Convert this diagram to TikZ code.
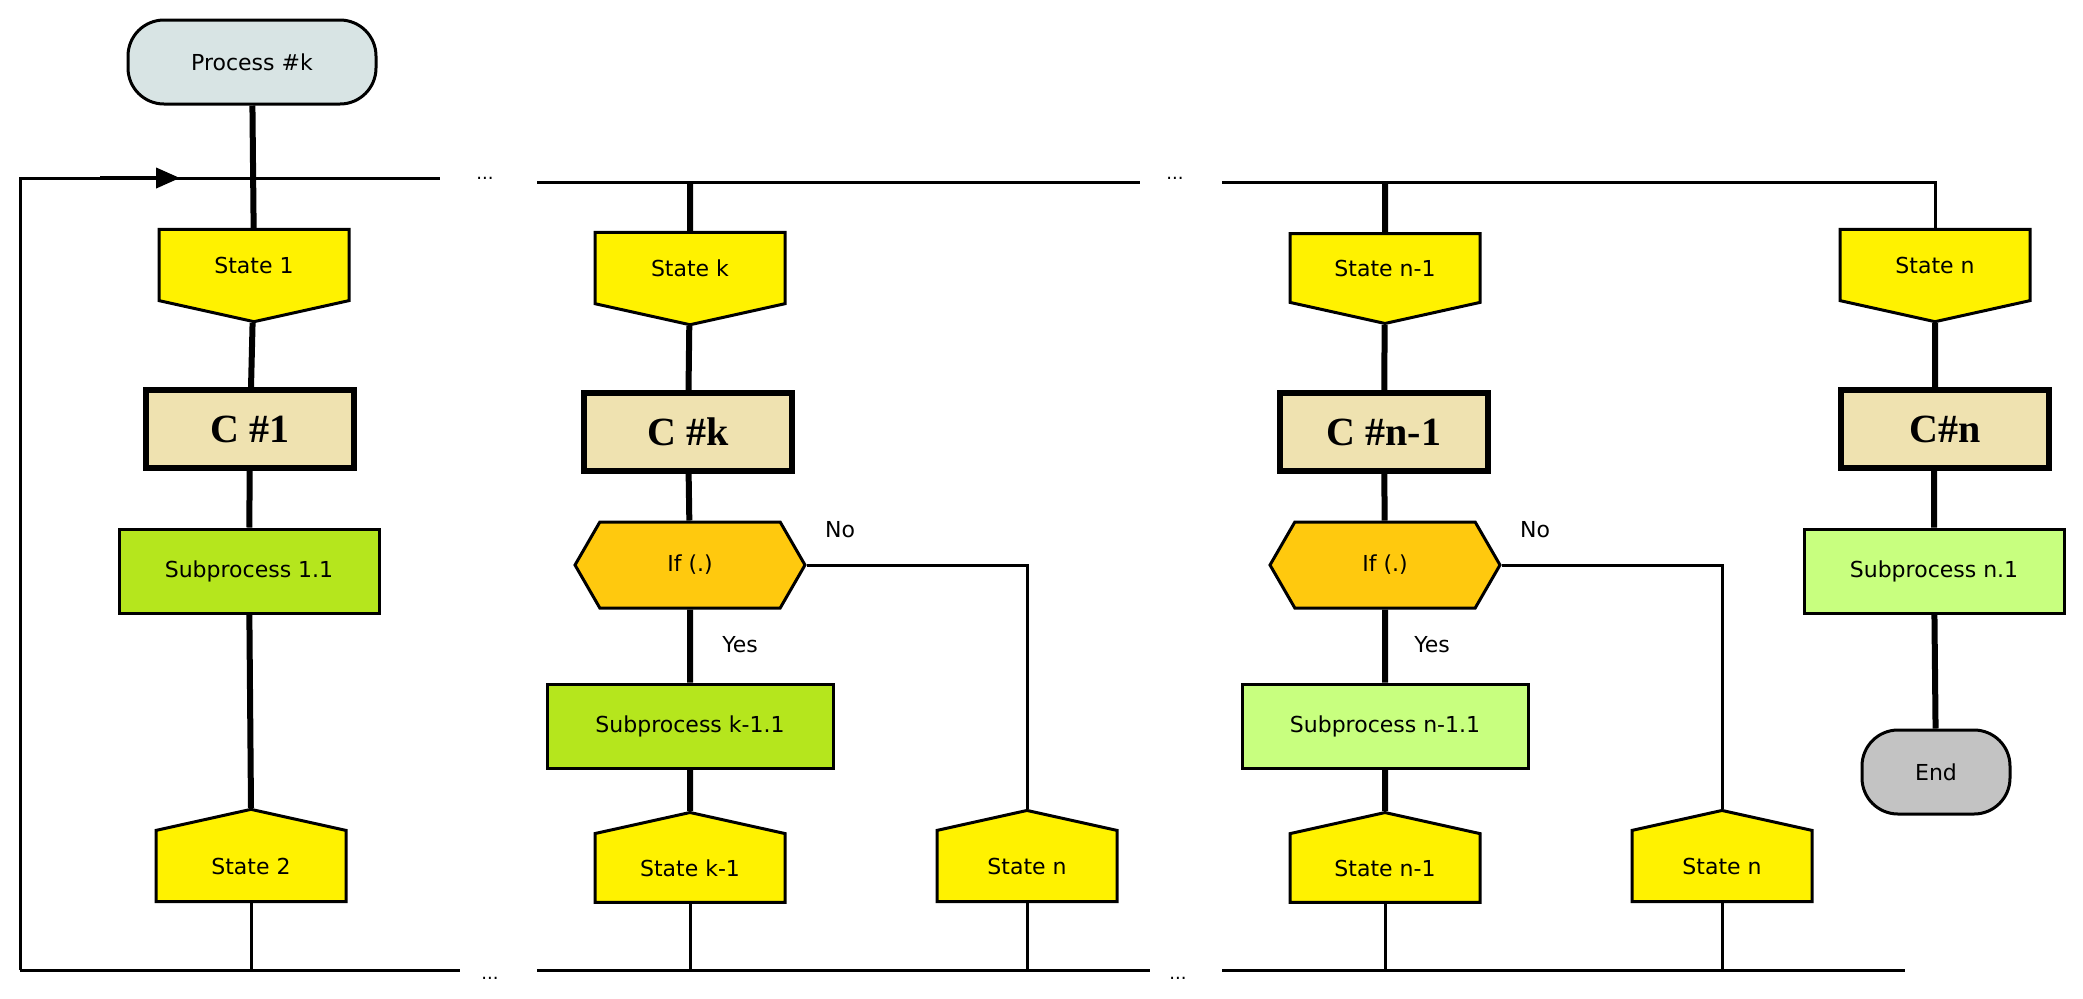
\documentclass[tikz,border=0pt]{standalone}
\usepackage{fontspec}
\setmainfont{Liberation Serif}
\setsansfont{DejaVu Sans}
\usetikzlibrary{shapes.symbols,arrows.meta}
\definecolor{procgray}{RGB}{216,228,228}
\definecolor{stateyel}{RGB}{255,242,0}
\definecolor{ctan}{RGB}{239,226,176}
\definecolor{subgreen}{RGB}{181,230,29}
\definecolor{sublight}{RGB}{200,255,127}
\definecolor{iforange}{RGB}{255,201,14}
\definecolor{endgray}{RGB}{195,195,195}
\tikzset{
  txt/.style={font=\sffamily\fontsize{11}{13}\selectfont},
  statedn/.style={txt,shape=signal,signal to=south,signal pointer angle=155,draw,line width=1.5pt,fill=stateyel,minimum width=95pt,minimum height=40pt,inner sep=0pt},
  stateup/.style={statedn,signal to=north},
  cbox/.style={draw,line width=3pt,fill=ctan,minimum width=104pt,minimum height=39pt,font=\bfseries\fontsize{20}{22}\selectfont},
  subbox/.style={txt,draw,line width=1.5pt,fill=subgreen,minimum width=130pt,minimum height=42pt},
  ifnode/.style={txt,shape=signal,signal to=east and west,signal pointer angle=120,draw,line width=1.5pt,fill=iforange,minimum width=115pt,minimum height=43pt,inner sep=0pt},
  term/.style={txt,draw,line width=1.5pt,rounded corners=18pt,minimum height=42pt},
  thick line/.style={line width=3pt},
  thin line/.style={line width=1.5pt},
  dots/.style={font=\sffamily\fontsize{9}{9}\selectfont}
}
\begin{document}
\begin{tikzpicture}[x=0.5pt,y=-0.5pt]
\useasboundingbox (0,0) rectangle (2083,998);

% column 1
\node[term,fill=procgray,minimum width=124pt] (proc) at (252,62) {Process \#k};
\node[statedn] (s1) at (254,265) {State 1};
\node[cbox] (c1) at (250,429) {C \#1};
\node[subbox] (sub1) at (249,571) {Subprocess 1.1};
\node[stateup] (s2) at (251,866) {State 2};

% column 2
\node[statedn] (sk) at (690,268) {State k};
\node[cbox] (ck) at (688,432) {C \#k};
\node[ifnode] (ifk) at (690,565) {If (.)};
\node[subbox,minimum width=143pt] (subk) at (690,726) {Subprocess k-1.1};
\node[stateup] (skm) at (690,868) {State k-1};
\node[stateup,minimum width=90pt] (snk) at (1027,866) {State n};
\node[txt] (nok) at (840,530) {No};
\node[txt] (yesk) at (740,645) {Yes};

% column 3
\node[statedn] (sn1) at (1385,268) {State n-1};
\node[cbox] (cn1) at (1384,432) {C \#n-1};
\node[ifnode] (ifn) at (1385,565) {If (.)};
\node[subbox,fill=sublight,minimum width=143pt] (subn1) at (1385,726) {Subprocess n-1.1};
\node[stateup] (sn1b) at (1385,868) {State n-1};
\node[stateup,minimum width=90pt] (snn) at (1722,866) {State n};
\node[txt] (non) at (1535,530) {No};
\node[txt] (yesn) at (1432,645) {Yes};

% column 4
\node[statedn] (sn) at (1935,265) {State n};
\node[cbox] (cn) at (1945,429) {C\#n};
\node[subbox,fill=sublight] (subn) at (1934,571) {Subprocess n.1};
\node[term,fill=endgray,minimum width=74pt] (end) at (1936,772) {End};

% buses
\coordinate (tl) at (20,178);
\coordinate (bl) at (20,970);
\node[dots] (dt1) at (485,178) {...};
\node[dots] (dt2) at (1175,178) {...};
\node[dots] (db1) at (490,978) {...};
\node[dots] (db2) at (1178,978) {...};
\draw[thin line] (bl) -- (tl) -- (440,178);
\draw[thin line] (537,182) -- (1140,182);
\draw[thin line] (1222,182) -- (1935,182) -- (sn.north);
\draw[thin line] (20,970) -- (460,970);
\draw[thin line] (537,970) -- (1150,970);
\draw[thin line] (1222,970) -- (1905,970);
\draw[-{Triangle[length=12pt,width=10pt]},line width=2pt] (100,178) -- (180,178);

% column connectors
\draw[thick line] (proc) -- (s1) -- (c1) -- (sub1) -- (s2.north);
\draw[thin line] (s2.south) -- (251,970);
\draw[thick line] (690,182) -- (sk) -- (ck) -- (ifk) -- (subk) -- (skm.north);
\draw[thin line] (ifk.east) -| (snk.north);
\draw[thin line] (skm.south) -- (690,970);
\draw[thin line] (snk.south) -- (1027,970);
\draw[thick line] (1385,182) -- (sn1) -- (cn1) -- (ifn) -- (subn1) -- (sn1b.north);
\draw[thin line] (ifn.east) -| (snn.north);
\draw[thin line] (sn1b.south) -- (1385,970);
\draw[thin line] (snn.south) -- (1722,970);
\draw[thick line] (sn) -- (cn.north -| sn) (cn.south -| subn) -- (subn) -- (end);
\end{tikzpicture}
\end{document}
